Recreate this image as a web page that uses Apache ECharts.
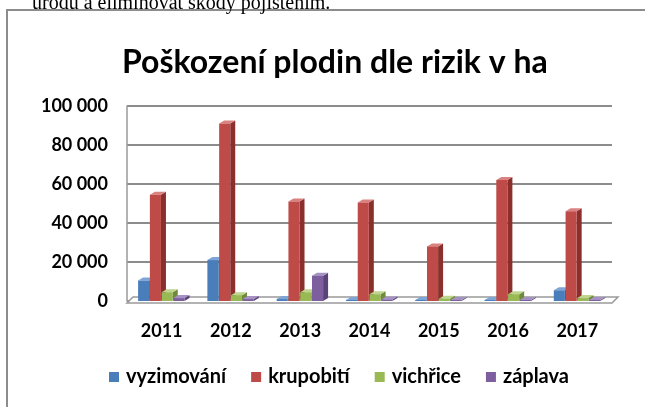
<!DOCTYPE html>
<html>
<head>
<meta charset="utf-8">
<script src="https://cdn.jsdelivr.net/npm/echarts@6/dist/echarts.min.js"></script>
<style>
  html, body { margin: 0; padding: 0; background: #fff; }
  #main { width: 645px; height: 407px; }
</style>
</head>
<body>
<div id="main"></div>
<script>
// data (ha)
var years = ["2011", "2012", "2013", "2014", "2015", "2016", "2017"];
var vyzimovani = [10500, 21000, 1000, 300, 300, 300, 5500];
var krupobiti = [54500, 91000, 51000, 50500, 28000, 62000, 46000];
var vichrice = [4500, 3000, 4500, 3500, 1200, 3500, 1500];
var zaplava = [1500, 1000, 13000, 800, 300, 500, 500];
var yTicks = [0, 20000, 40000, 60000, 80000, 100000];

var names = ["vyzimování", "krupobití", "vichřice", "záplava"];
var values = [vyzimovani, krupobiti, vichrice, zaplava];
var colors = [
  { front: "#4a7ebb", side: "#345a88", top: "#7fa5d6" },
  { front: "#be4b48", side: "#8b2f2d", top: "#d98280" },
  { front: "#98b954", side: "#6f8a3b", top: "#bdd58c" },
  { front: "#7d5fa0", side: "#5a4477", top: "#a592c2" }
];

var myChart = echarts.init(document.getElementById("main"));

function fmt(v) {
  return String(v).replace(/\B(?=(\d{3})+(?!\d))/g, " ");
}

// 3D-ish column: front face, right side and top
function bar3d(idx) {
  var c = colors[idx];
  return function (params, api) {
    var cat = api.value(0);
    var top = api.coord([cat, api.value(1)]);
    var base = api.coord([cat, 0]);
    var band = api.size([1, 0])[0];
    var w = band * 0.16;
    var x = top[0] - band * 0.34 + idx * band * 0.17;
    var dx = 5, dy = 3;
    var y0 = base[1], y1 = Math.min(top[1], base[1] - 1);
    return {
      type: "group",
      children: [
        { type: "polygon", shape: { points: [[x + w, y1], [x + w + dx, y1 - dy], [x + w + dx, y0 - dy], [x + w, y0]] },
          style: { fill: c.side } },
        { type: "polygon", shape: { points: [[x, y1], [x + dx, y1 - dy], [x + w + dx, y1 - dy], [x + w, y1]] },
          style: { fill: c.top } },
        { type: "rect", shape: { x: x, y: y1, width: w, height: y0 - y1 },
          style: { fill: c.front } }
      ]
    };
  };
}

// floor plate under the columns
function floor(params, api) {
  var a = api.coord([0, 0]);
  var b = api.coord([years.length - 1, 0]);
  var band = api.size([1, 0])[0];
  var x0 = a[0] - band / 2, x1 = b[0] + band / 2;
  var y = a[1];
  return {
    type: "polygon",
    shape: { points: [[x0, y + 2], [x0 + 6, y - 4], [x1 + 6, y - 4], [x1, y + 2]] },
    style: { fill: "#fff", stroke: "#9a9a9a", lineWidth: 1.5 }
  };
}

var series = [{
  name: "floor",
  type: "custom",
  renderItem: floor,
  data: [[0, 0]],
  silent: true,
  z: 1
}];
for (var i = 0; i < names.length; i++) {
  series.push({
    name: names[i],
    type: "custom",
    renderItem: bar3d(i),
    itemStyle: { color: colors[i].front },
    encode: { x: 0, y: 1 },
    data: years.map(function (y, k) { return [k, values[i][k]]; }),
    z: 2
  });
}

var option = {
  animation: false,
  title: {
    text: "Poškození plodin dle rizik v ha",
    left: 117,
    top: 42,
    textStyle: { fontFamily: "Lato", fontWeight: "bold", fontSize: 32, color: "#000" }
  },
  graphic: [
    { type: "rect", shape: { x: 7, y: 10, width: 700, height: 500 },
      style: { fill: "none", stroke: "#8c8c8c", lineWidth: 2 }, z: -1 },
    { type: "text", x: 32, y: 14,
      style: { text: "úrodu a eliminovat škody pojištěním.", font: "20px 'Liberation Serif'",
               fill: "#000", verticalAlign: "bottom" } }
  ],
  legend: {
    data: names,
    bottom: 15,
    left: 104,
    icon: "rect",
    itemWidth: 10,
    itemHeight: 10,
    itemGap: 25,
    textStyle: { fontFamily: "Lato", fontWeight: "bold", fontSize: 20, color: "#000", padding: [0, 0, 0, 2] }
  },
  grid: { left: 127, right: 33, top: 106, bottom: 106 },
  xAxis: {
    type: "category",
    data: years,
    axisLine: { show: false },
    axisTick: { show: false },
    axisLabel: { margin: 21, fontFamily: "Lato", fontWeight: "bold", fontSize: 18, color: "#000" }
  },
  yAxis: {
    type: "value",
    min: yTicks[0],
    max: yTicks[yTicks.length - 1],
    interval: 20000,
    axisLine: { show: true, lineStyle: { color: "#9a9a9a", width: 1.5 } },
    axisTick: { show: false },
    splitLine: { lineStyle: { color: "#8c8c8c", width: 2 } },
    axisLabel: {
      margin: 19,
      fontFamily: "Lato", fontWeight: "bold", fontSize: 18, color: "#000",
      formatter: fmt
    }
  },
  series: series
};

myChart.setOption(option);
</script>
</body>
</html>
